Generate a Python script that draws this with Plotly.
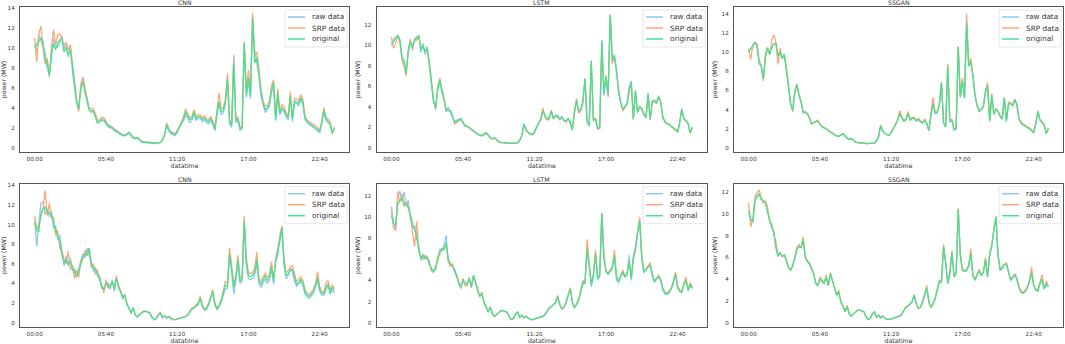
import pandas as pd
import plotly.graph_objects as go

# ---------------- data ----------------
times = pd.date_range("2020-01-01 00:00", periods=144, freq="10min")
tick_labels = ["00:00", "05:40", "11:20", "17:00", "22:40"]
models = ["CNN", "LSTM", "SSGAN"]
series_names = ["raw data", "SRP data", "original"]

top_original = [
    10.0, 10.3, 10.6, 11.0, 10.6, 8.8, 8.5, 7.2, 9.5, 10.4, 9.8, 10.5,
    10.8, 10.9, 9.6, 10.0, 9.3, 9.8, 8.2, 6.2, 4.6, 3.9, 5.8, 6.6,
    5.5, 4.8, 3.7, 3.7, 3.6, 3.1, 2.5, 2.6, 2.7, 2.8, 2.5, 2.2,
    2.1, 2.0, 1.8, 1.65, 1.5, 1.35, 1.25, 1.2, 1.35, 1.5, 1.25, 1.0,
    0.9, 1.0, 0.8, 0.6, 0.55, 0.55, 0.5, 0.5, 0.45, 0.45, 0.45, 0.48,
    0.5, 0.75, 1.2, 2.3, 1.8, 1.5, 1.4, 1.3, 1.6, 2.0, 2.4, 2.8,
    3.6, 3.2, 2.8, 2.9, 3.6, 2.9, 3.1, 3.1, 2.8, 3.0, 2.7, 2.6,
    2.9, 2.5, 1.8, 3.5, 4.6, 3.6, 3.7, 4.5, 6.8, 2.6, 2.2, 8.5,
    2.7, 2.9, 1.9, 2.0, 10.5, 5.3, 7.0, 5.2, 13.0, 8.5, 9.0, 7.5,
    5.5, 4.4, 3.8, 4.0, 4.3, 5.8, 6.5, 2.8, 5.5, 3.5, 4.0, 3.8,
    3.3, 3.0, 5.2, 2.8, 4.6, 4.6, 4.4, 5.0, 4.5, 3.0, 2.6, 2.4,
    2.3, 2.1, 2.0, 1.8, 1.6, 2.5, 3.8, 2.9, 2.7, 2.4, 1.5, 2.0,
]
top_cnn_raw = [
    10.4, 9.6, 11.3, 10.7, 9.9, 9.5, 7.9, 7.4, 9.0, 10.9, 10.2, 10.1,
    10.5, 11.2, 9.9, 10.3, 9.1, 10.2, 7.7, 5.9, 4.4, 3.8, 6.1, 7.1,
    5.8, 4.6, 3.9, 3.5, 3.8, 3.0, 2.4, 2.7, 2.9, 2.7, 2.4, 2.1,
    2.0, 1.9, 1.7, 1.6, 1.45, 1.3, 1.2, 1.15, 1.3, 1.45, 1.2, 0.95,
    0.85, 0.95, 0.75, 0.55, 0.5, 0.5, 0.45, 0.45, 0.4, 0.4, 0.42, 0.45,
    0.5, 0.8, 1.3, 2.2, 1.7, 1.4, 1.3, 1.2, 1.5, 2.1, 2.5, 2.6,
    3.3, 3.0, 2.5, 2.7, 3.4, 2.7, 3.0, 2.9, 2.6, 2.8, 2.5, 2.4,
    2.7, 2.3, 1.7, 3.3, 4.3, 3.3, 3.5, 4.3, 7.1, 2.4, 2.0, 9.3,
    2.5, 2.7, 1.7, 1.9, 10.3, 5.0, 6.6, 4.9, 13.2, 9.8, 8.6, 7.2,
    5.2, 4.2, 3.5, 3.8, 4.1, 5.5, 6.2, 2.7, 5.3, 3.3, 3.8, 3.6,
    3.1, 2.8, 5.0, 2.6, 4.4, 4.4, 4.2, 4.8, 4.3, 2.8, 2.5, 2.3,
    2.2, 2.0, 1.9, 1.7, 1.5, 2.4, 3.6, 2.7, 2.5, 2.3, 1.4, 1.9,
]
top_cnn_srp = [
    11.0, 8.6, 11.4, 12.2, 10.0, 8.4, 9.0, 7.1, 10.0, 11.8, 10.3, 11.3,
    11.4, 11.0, 10.2, 10.6, 9.8, 10.3, 8.6, 6.5, 4.9, 3.6, 6.4, 7.0,
    6.0, 5.2, 4.0, 3.9, 3.9, 3.4, 2.7, 2.8, 3.0, 3.0, 2.6, 2.3,
    2.2, 2.1, 1.9, 1.75, 1.55, 1.4, 1.3, 1.25, 1.4, 1.55, 1.3, 1.05,
    0.95, 1.05, 0.85, 0.65, 0.6, 0.58, 0.52, 0.52, 0.47, 0.47, 0.48, 0.5,
    0.55, 0.8, 1.3, 2.5, 1.9, 1.6, 1.5, 1.4, 1.7, 2.2, 2.6, 3.1,
    3.9, 3.4, 3.0, 3.1, 3.8, 3.1, 3.3, 3.3, 3.0, 3.2, 2.9, 2.8,
    3.1, 2.7, 1.9, 3.8, 5.5, 3.9, 4.0, 4.8, 7.4, 2.8, 2.3, 9.0,
    2.9, 3.1, 2.0, 2.1, 10.6, 5.8, 7.8, 5.6, 13.5, 9.2, 9.6, 8.0,
    5.9, 4.7, 4.1, 4.3, 4.6, 6.2, 6.8, 3.0, 5.9, 3.7, 4.3, 4.1,
    3.5, 3.2, 5.6, 3.0, 4.9, 4.9, 4.7, 5.3, 4.8, 3.2, 2.8, 2.6,
    2.5, 2.3, 2.2, 2.0, 1.7, 2.7, 4.0, 3.1, 2.9, 2.6, 1.4, 2.1,
]
top_lstm_raw = [
    10.2, 10.6, 10.8, 10.9, 10.5, 9.0, 8.3, 7.4, 9.3, 10.2, 10.0, 10.4,
    10.6, 11.0, 9.3, 10.2, 9.1, 9.9, 8.0, 6.0, 4.5, 3.9, 5.6, 6.4,
    5.4, 4.9, 3.5, 4.0, 3.4, 3.0, 2.6, 2.7, 2.8, 2.9, 2.4, 2.2,
    2.05, 2.0, 1.75, 1.6, 1.5, 1.3, 1.25, 1.15, 1.3, 1.45, 1.2, 0.95,
    0.9, 0.95, 0.8, 0.6, 0.55, 0.5, 0.5, 0.45, 0.45, 0.45, 0.45, 0.5,
    0.5, 0.8, 1.2, 2.4, 1.7, 1.5, 1.35, 1.3, 1.6, 2.1, 2.4, 2.9,
    3.7, 3.1, 2.9, 3.0, 3.5, 3.0, 3.0, 3.2, 2.7, 3.1, 2.6, 2.7,
    2.8, 2.6, 1.7, 3.6, 4.7, 3.5, 3.8, 4.4, 6.6, 2.7, 2.1, 8.4,
    2.8, 2.8, 2.0, 1.9, 10.4, 5.1, 6.9, 5.0, 12.9, 8.7, 8.8, 7.6,
    5.3, 4.5, 3.7, 4.1, 4.2, 5.9, 6.4, 2.9, 5.7, 3.4, 4.1, 3.7,
    3.4, 2.9, 5.4, 2.8, 4.5, 4.7, 4.3, 5.1, 4.4, 3.1, 2.5, 2.4,
    2.3, 2.1, 1.95, 1.8, 1.55, 2.4, 3.7, 2.9, 2.6, 2.4, 1.5, 2.0,
]
top_lstm_srp = [
    10.8, 9.7, 10.2, 10.9, 10.3, 8.5, 8.0, 7.0, 9.6, 10.6, 9.5, 10.7,
    10.5, 10.8, 9.8, 9.7, 9.6, 9.5, 8.5, 6.4, 4.8, 3.7, 6.0, 6.8,
    5.7, 4.6, 3.8, 3.6, 3.7, 3.2, 2.3, 2.5, 2.6, 2.8, 2.6, 2.1,
    2.1, 1.95, 1.85, 1.7, 1.45, 1.4, 1.2, 1.25, 1.4, 1.5, 1.3, 1.0,
    0.85, 1.0, 0.8, 0.6, 0.5, 0.55, 0.48, 0.5, 0.45, 0.45, 0.45, 0.5,
    0.5, 0.7, 1.2, 2.3, 1.8, 1.5, 1.4, 1.3, 1.5, 2.0, 2.5, 2.8,
    3.9, 3.0, 2.7, 2.8, 3.7, 2.8, 3.2, 3.0, 2.8, 3.0, 2.7, 2.5,
    2.9, 2.4, 1.8, 3.4, 4.8, 3.4, 3.6, 4.6, 6.7, 2.5, 2.2, 8.5,
    2.6, 2.9, 1.8, 2.0, 10.4, 5.4, 7.1, 5.0, 13.0, 8.2, 9.1, 7.3,
    5.6, 4.3, 3.6, 3.9, 4.4, 5.6, 6.4, 2.7, 5.4, 3.5, 3.9, 3.9,
    3.2, 3.0, 5.1, 2.7, 4.5, 4.5, 4.4, 4.9, 4.5, 2.9, 2.6, 2.3,
    2.3, 2.1, 2.0, 1.7, 1.5, 2.5, 3.8, 2.8, 2.7, 2.3, 1.4, 2.0,
]
top_ssgan_raw = [
    10.0, 10.3, 10.6, 11.0, 10.6, 8.9, 8.5, 7.2, 9.5, 10.4, 9.8, 10.5,
    10.9, 10.9, 9.7, 10.0, 9.3, 9.8, 8.2, 6.2, 4.6, 3.9, 5.8, 6.6,
    5.5, 4.8, 3.7, 3.7, 3.6, 3.1, 2.5, 2.6, 2.7, 2.8, 2.5, 2.2,
    2.1, 2.0, 1.8, 1.65, 1.5, 1.35, 1.25, 1.2, 1.35, 1.5, 1.25, 1.0,
    0.9, 1.0, 0.8, 0.6, 0.55, 0.55, 0.5, 0.5, 0.45, 0.45, 0.45, 0.48,
    0.5, 0.75, 1.2, 2.3, 1.8, 1.5, 1.4, 1.3, 1.6, 2.0, 2.4, 2.8,
    3.6, 3.2, 2.8, 2.9, 3.6, 2.9, 3.1, 3.1, 2.8, 3.0, 2.7, 2.6,
    2.9, 2.5, 1.8, 3.5, 4.7, 3.6, 3.7, 4.5, 6.8, 2.6, 2.2, 8.6,
    2.7, 2.9, 1.9, 2.0, 10.5, 5.3, 7.1, 5.2, 13.2, 8.6, 9.1, 7.5,
    5.5, 4.4, 3.8, 4.0, 4.3, 5.8, 6.5, 2.8, 5.5, 3.5, 4.0, 3.8,
    3.3, 3.0, 5.2, 2.8, 4.6, 4.6, 4.4, 5.0, 4.5, 3.0, 2.6, 2.4,
    2.3, 2.1, 2.0, 1.8, 1.6, 2.5, 3.8, 2.9, 2.7, 2.4, 1.5, 2.0,
]
top_ssgan_srp = [
    10.4, 9.2, 10.8, 11.0, 10.9, 9.2, 8.6, 7.0, 9.8, 10.5, 9.7, 11.2,
    11.8, 11.0, 8.7, 10.4, 9.4, 9.6, 8.3, 6.3, 4.7, 3.8, 6.0, 6.7,
    5.6, 4.9, 3.6, 3.8, 3.5, 3.2, 2.5, 2.7, 2.8, 2.9, 2.5, 2.3,
    2.1, 2.0, 1.85, 1.7, 1.5, 1.4, 1.25, 1.25, 1.4, 1.5, 1.25, 1.0,
    0.9, 1.0, 0.8, 0.6, 0.55, 0.55, 0.5, 0.5, 0.45, 0.45, 0.45, 0.5,
    0.5, 0.75, 1.25, 2.4, 1.8, 1.5, 1.4, 1.3, 1.6, 2.1, 2.5, 2.9,
    3.9, 3.3, 2.9, 3.0, 3.8, 3.0, 3.2, 3.2, 2.9, 3.1, 2.8, 2.7,
    3.0, 2.6, 1.8, 3.6, 5.3, 3.7, 3.8, 4.6, 6.9, 2.6, 2.2, 8.8,
    2.8, 3.0, 1.9, 2.0, 10.6, 5.4, 7.3, 5.3, 14.0, 8.7, 9.4, 7.7,
    5.6, 4.5, 3.9, 4.1, 4.4, 6.0, 6.8, 2.9, 5.7, 3.6, 4.1, 3.9,
    3.4, 3.1, 5.3, 2.9, 4.8, 4.7, 4.5, 5.1, 4.6, 3.1, 2.7, 2.5,
    2.4, 2.2, 2.1, 1.9, 1.6, 2.6, 3.9, 3.0, 2.8, 2.5, 1.5, 2.1,
]

bottom_original = [
    10.2, 9.4, 9.3, 11.2, 11.6, 11.8, 11.3, 11.2, 11.0, 10.1, 9.4, 8.8,
    8.3, 6.9, 6.1, 6.4, 6.1, 6.2, 5.7, 5.1, 4.8, 5.2, 5.9, 6.7,
    7.0, 6.9, 7.6, 6.0, 5.6, 5.4, 4.9, 4.5, 3.6, 3.4, 4.0, 3.8,
    3.6, 4.2, 3.4, 4.5, 3.8, 3.0, 2.5, 2.8, 1.9, 1.5, 1.0, 1.5,
    0.8, 0.6, 0.8, 1.0, 1.15, 1.15, 1.1, 1.0, 0.55, 0.3, 0.4, 0.8,
    1.0, 0.5, 0.7, 0.45, 0.6, 0.4, 0.3, 0.3, 0.35, 0.4, 0.5, 0.55,
    0.6, 0.75, 1.1, 1.4, 1.5, 1.7, 1.9, 2.5, 1.7, 1.3, 1.4, 1.9,
    2.6, 3.2, 1.9, 1.4, 1.7, 2.2, 3.0, 3.8, 3.7, 7.0, 5.5, 3.6,
    4.5, 6.5, 4.2, 4.5, 10.4, 6.2, 4.8, 4.7, 4.8, 5.2, 6.4, 4.3,
    3.9, 4.3, 4.8, 4.3, 4.6, 5.8, 4.2, 6.2, 7.0, 8.5, 9.7, 6.2,
    4.8, 5.0, 5.3, 5.4, 4.5, 3.9, 4.1, 4.4, 4.0, 3.2, 2.8, 2.7,
    2.9, 3.2, 3.8, 4.6, 3.4, 3.0, 2.9, 3.6, 4.0, 3.1, 3.6, 3.3,
]
bottom_cnn_raw = [
    10.6, 7.8, 10.2, 12.2, 12.3, 11.0, 11.6, 10.8, 11.4, 9.6, 9.9, 8.4,
    8.9, 7.2, 5.8, 6.8, 5.8, 6.6, 5.3, 5.5, 4.6, 5.5, 6.3, 7.0,
    6.6, 7.6, 6.8, 6.3, 5.2, 5.7, 4.7, 4.8, 3.5, 3.6, 3.8, 4.1,
    3.4, 4.4, 3.2, 4.6, 3.6, 3.1, 2.4, 2.9, 1.8, 1.6, 0.9, 1.6,
    0.75, 0.65, 0.8, 1.0, 1.1, 1.15, 1.1, 0.95, 0.5, 0.3, 0.45, 0.8,
    0.95, 0.5, 0.7, 0.45, 0.6, 0.4, 0.3, 0.3, 0.35, 0.4, 0.5, 0.55,
    0.6, 0.8, 1.1, 1.35, 1.5, 1.65, 1.85, 2.4, 1.65, 1.3, 1.35, 1.8,
    2.5, 3.1, 1.8, 1.3, 1.6, 2.1, 2.8, 3.4, 3.5, 6.7, 5.2, 2.9,
    4.2, 6.2, 4.0, 4.2, 10.2, 5.9, 4.5, 4.4, 4.5, 4.9, 6.0, 4.0,
    3.6, 4.1, 4.5, 4.0, 4.3, 5.5, 3.9, 6.6, 7.6, 8.2, 9.4, 5.8,
    4.5, 4.8, 5.6, 5.2, 4.2, 3.7, 3.9, 4.2, 3.8, 2.9, 2.6, 2.5,
    2.7, 3.0, 3.6, 4.4, 3.2, 2.8, 2.8, 3.4, 3.8, 2.9, 3.3, 3.0,
]
bottom_cnn_srp = [
    10.9, 9.6, 10.0, 10.8, 11.6, 13.5, 10.9, 12.2, 10.6, 10.8, 8.9, 9.4,
    7.6, 7.3, 6.5, 6.0, 7.3, 5.4, 5.9, 4.5, 5.4, 4.6, 6.4, 6.5,
    7.4, 6.8, 7.6, 5.6, 6.0, 4.9, 5.4, 4.3, 4.0, 3.0, 4.4, 3.5,
    3.9, 4.0, 3.7, 4.8, 3.5, 3.3, 2.7, 2.7, 2.1, 1.4, 1.1, 1.5,
    0.85, 0.6, 0.85, 1.05, 1.2, 1.2, 1.15, 1.05, 0.6, 0.3, 0.45, 0.85,
    1.05, 0.55, 0.75, 0.5, 0.65, 0.45, 0.35, 0.35, 0.4, 0.45, 0.55, 0.6,
    0.65, 0.8, 1.2, 1.5, 1.6, 1.8, 2.0, 2.7, 1.8, 1.4, 1.5, 2.0,
    2.8, 3.4, 2.0, 1.5, 1.8, 2.4, 3.3, 4.2, 4.0, 7.6, 5.9, 3.9,
    4.8, 6.9, 4.5, 4.8, 10.9, 6.6, 5.1, 5.0, 5.1, 5.6, 7.2, 4.6,
    4.2, 4.6, 5.1, 4.6, 4.9, 6.2, 4.5, 6.5, 7.3, 8.9, 9.9, 6.6,
    5.1, 5.3, 5.7, 5.8, 4.9, 4.2, 4.4, 4.7, 4.3, 3.4, 3.0, 2.9,
    3.1, 3.4, 4.0, 5.2, 3.7, 3.2, 3.1, 4.1, 4.3, 3.3, 3.9, 3.5,
]
bottom_lstm_raw = [
    11.0, 9.5, 8.9, 11.8, 12.5, 11.5, 12.4, 11.0, 11.6, 9.8, 9.0, 9.2,
    7.9, 7.3, 5.9, 6.5, 6.0, 6.3, 5.5, 5.2, 4.7, 5.4, 6.0, 7.0,
    6.8, 7.4, 8.3, 5.8, 5.6, 5.3, 5.1, 4.5, 3.8, 3.3, 4.1, 3.7,
    3.7, 4.1, 3.5, 4.4, 3.9, 2.9, 2.6, 2.7, 2.0, 1.4, 1.0, 1.5,
    0.8, 0.6, 0.8, 1.0, 1.1, 1.15, 1.1, 1.0, 0.55, 0.3, 0.4, 0.8,
    1.0, 0.5, 0.7, 0.45, 0.6, 0.4, 0.3, 0.3, 0.35, 0.4, 0.5, 0.55,
    0.6, 0.75, 1.1, 1.35, 1.5, 1.7, 1.9, 2.4, 1.7, 1.3, 1.4, 1.9,
    2.5, 3.3, 1.8, 1.4, 1.7, 2.1, 2.9, 3.6, 3.8, 6.8, 5.4, 3.4,
    4.3, 6.6, 4.1, 4.3, 10.3, 6.0, 4.9, 4.5, 5.0, 5.3, 6.2, 4.0,
    3.8, 4.5, 4.6, 4.4, 4.5, 6.4, 4.0, 6.0, 6.8, 8.6, 9.5, 6.0,
    4.7, 5.1, 5.2, 5.5, 4.4, 3.8, 4.2, 4.3, 4.1, 3.1, 2.7, 2.7,
    2.8, 3.3, 3.7, 4.7, 3.3, 3.0, 2.8, 3.7, 4.2, 3.0, 3.5, 3.2,
]
bottom_lstm_srp = [
    10.6, 9.0, 8.7, 12.4, 11.4, 12.2, 11.0, 11.5, 10.8, 10.3, 8.6, 7.2,
    9.6, 6.7, 6.3, 6.0, 6.4, 6.0, 5.9, 4.9, 5.0, 5.0, 6.3, 6.5,
    7.0, 7.0, 7.5, 5.8, 5.3, 5.6, 4.8, 4.3, 3.9, 3.2, 4.2, 3.5,
    3.5, 4.3, 3.3, 4.4, 3.7, 3.1, 2.4, 2.9, 1.8, 1.5, 1.0, 1.5,
    0.85, 0.6, 0.8, 1.05, 1.15, 1.15, 1.1, 1.0, 0.55, 0.3, 0.4, 0.8,
    1.0, 0.5, 0.7, 0.45, 0.6, 0.4, 0.3, 0.3, 0.35, 0.4, 0.5, 0.55,
    0.6, 0.8, 1.15, 1.45, 1.55, 1.75, 1.95, 2.6, 1.75, 1.35, 1.45, 2.0,
    2.7, 3.3, 2.0, 1.5, 1.8, 2.3, 3.1, 4.0, 3.8, 7.9, 5.7, 3.7,
    4.6, 6.9, 4.3, 4.6, 10.4, 6.4, 4.9, 4.8, 4.9, 5.4, 6.9, 4.4,
    4.0, 4.4, 5.0, 4.4, 4.7, 5.9, 4.3, 6.3, 7.2, 8.7, 10.0, 6.4,
    4.9, 5.1, 5.4, 5.7, 4.6, 4.0, 4.2, 4.5, 4.1, 3.3, 2.9, 2.8,
    3.0, 3.3, 3.9, 4.8, 3.5, 3.1, 3.0, 3.7, 4.3, 3.2, 3.8, 3.4,
]
bottom_ssgan_raw = [
    10.3, 9.5, 9.2, 11.2, 11.7, 11.8, 11.4, 11.2, 11.0, 10.2, 9.4, 8.8,
    8.4, 6.9, 6.1, 6.4, 6.1, 6.2, 5.7, 5.1, 4.8, 5.2, 5.9, 6.7,
    7.0, 6.9, 7.6, 6.0, 5.6, 5.4, 4.9, 4.5, 3.6, 3.4, 4.0, 3.8,
    3.6, 4.2, 3.4, 4.5, 3.8, 3.0, 2.5, 2.8, 1.9, 1.5, 1.0, 1.5,
    0.8, 0.6, 0.8, 1.0, 1.15, 1.15, 1.1, 1.0, 0.55, 0.3, 0.4, 0.8,
    1.0, 0.5, 0.7, 0.45, 0.6, 0.4, 0.3, 0.3, 0.35, 0.4, 0.5, 0.55,
    0.6, 0.75, 1.1, 1.4, 1.5, 1.7, 1.9, 2.5, 1.7, 1.3, 1.4, 1.9,
    2.6, 3.2, 1.9, 1.4, 1.7, 2.2, 3.0, 3.8, 3.7, 7.0, 5.5, 3.6,
    4.5, 6.5, 4.2, 4.5, 10.4, 6.2, 4.8, 4.7, 4.8, 5.2, 6.4, 4.3,
    3.9, 4.3, 4.8, 4.3, 4.6, 5.8, 4.2, 6.2, 7.0, 8.5, 9.7, 6.2,
    4.8, 5.0, 5.3, 5.4, 4.5, 3.9, 4.1, 4.4, 4.0, 3.2, 2.8, 2.7,
    2.9, 3.2, 3.8, 4.6, 3.4, 3.0, 2.9, 3.6, 4.0, 3.1, 3.6, 3.3,
]
bottom_ssgan_srp = [
    11.0, 8.8, 9.5, 11.6, 11.9, 12.2, 11.5, 11.0, 11.2, 10.7, 9.2, 9.1,
    8.0, 7.5, 6.2, 6.5, 6.0, 6.3, 5.8, 5.0, 4.9, 5.3, 6.0, 6.9,
    7.2, 6.9, 7.9, 6.2, 5.7, 5.5, 5.0, 4.6, 3.7, 3.4, 4.2, 3.9,
    3.7, 4.4, 3.4, 4.6, 3.8, 3.1, 2.6, 3.0, 1.9, 1.6, 1.0, 1.6,
    0.8, 0.6, 0.8, 1.0, 1.15, 1.15, 1.1, 1.0, 0.55, 0.3, 0.4, 0.8,
    1.0, 0.5, 0.7, 0.45, 0.6, 0.4, 0.3, 0.3, 0.35, 0.4, 0.5, 0.55,
    0.6, 0.75, 1.1, 1.45, 1.55, 1.75, 1.95, 2.6, 1.75, 1.3, 1.45, 2.0,
    2.7, 3.4, 1.9, 1.4, 1.75, 2.3, 3.1, 3.9, 3.8, 7.2, 5.6, 3.7,
    4.6, 6.6, 4.3, 4.6, 10.5, 6.3, 4.9, 4.8, 4.9, 5.3, 6.8, 4.4,
    4.0, 4.4, 4.9, 4.4, 4.7, 6.0, 4.3, 6.3, 7.2, 8.7, 9.8, 6.3,
    4.9, 5.1, 5.4, 5.5, 4.6, 4.0, 4.2, 4.5, 4.1, 3.3, 2.9, 2.8,
    3.0, 3.3, 3.9, 5.1, 3.5, 3.1, 3.0, 3.8, 4.4, 3.2, 3.8, 3.4,
]

panels = [
    ("CNN", top_cnn_raw, top_cnn_srp, top_original),
    ("LSTM", top_lstm_raw, top_lstm_srp, top_original),
    ("SSGAN", top_ssgan_raw, top_ssgan_srp, top_original),
    ("CNN", bottom_cnn_raw, bottom_cnn_srp, bottom_original),
    ("LSTM", bottom_lstm_raw, bottom_lstm_srp, bottom_original),
    ("SSGAN", bottom_ssgan_raw, bottom_ssgan_srp, bottom_original),
]
for p in panels:
    for s in p[1:]:
        assert len(s) == len(times), (p[0], len(s))

# ---------------- styling / layout ----------------
W, H = 1065, 344
colors = ["#8cc8f2", "#ffa578", "#46e28c"]
font_family = "DejaVu Sans"
text_color = "#333333"
x_px = [(20, 349), (376.7, 707), (734, 1063)]
y_px = [(7, 152), (183.7, 327)]
y_ranges = [[-0.44, 14.1], [-0.39, 13.73], [-0.42, 14.7],
            [-0.44, 14.17], [-0.41, 13.17], [-0.4, 12.77]]

t0 = times[0]
x_range = [t0 - pd.Timedelta(minutes=70), t0 + pd.Timedelta(minutes=1500)]
tick_vals = [pd.Timestamp("2020-01-01 " + lbl) for lbl in tick_labels]


def px_x(v):
    return v / W


def px_y(v):
    return 1 - v / H


fig = go.Figure()
annotations, shapes = [], []
layout = dict(
    width=W, height=H, autosize=False,
    margin=dict(l=0, r=0, t=0, b=0),
    paper_bgcolor="white", plot_bgcolor="white",
    font=dict(family=font_family, color=text_color),
    showlegend=False,
)

for k, (title, raw, srp, orig) in enumerate(panels):
    idx = k + 1
    r, c = divmod(k, 3)
    L, R = x_px[c]
    T, B = y_px[r]
    xd = [px_x(L), px_x(R)]
    yd = [px_y(B), px_y(T)]
    xa = "x" if idx == 1 else f"x{idx}"
    ya = "y" if idx == 1 else f"y{idx}"
    for name, vals, col in zip(series_names, [raw, srp, orig], colors):
        fig.add_trace(go.Scatter(
            x=times, y=vals, mode="lines", name=name,
            line=dict(color=col, width=1.25),
            xaxis=xa, yaxis=ya,
        ))
    axis_common = dict(
        showline=True, mirror=True, linecolor="#555555", linewidth=1.3,
        showgrid=False, zeroline=False, automargin=False,
        ticks="outside", tickcolor="rgba(0,0,0,0)",
        tickfont=dict(size=5.6, color=text_color, family=font_family),
    )
    layout[f"xaxis{'' if idx == 1 else idx}"] = dict(
        axis_common, domain=xd, anchor=ya, type="date", range=x_range,
        tickvals=tick_vals, ticktext=tick_labels, ticklen=1,
        title=dict(text="datatime", font=dict(size=6.2), standoff=0),
    )
    layout[f"yaxis{'' if idx == 1 else idx}"] = dict(
        axis_common, domain=yd, anchor=xa, range=y_ranges[k], dtick=2,
        ticklen=3,
        title=dict(text="power (MW)", font=dict(size=6.2), standoff=3),
    )
    # panel title
    annotations.append(dict(
        text=title, xref="paper", yref="paper",
        x=(xd[0] + xd[1]) / 2, y=yd[1], xanchor="center", yanchor="bottom",
        yshift=-1, showarrow=False, font=dict(size=6.2, color=text_color),
    ))
    # legend (upper right, matplotlib-like compact frame)
    shapes.append(dict(
        type="rect", xref="paper", yref="paper", layer="above",
        x0=px_x(R - 64), x1=px_x(R - 2), y0=px_y(T + 40), y1=px_y(T + 3),
        fillcolor="rgba(255,255,255,0.85)", line=dict(color="#e0e0e0", width=0.8),
    ))
    for j, (name, col) in enumerate(zip(series_names, colors)):
        ry = T + 10 + j * 11
        shapes.append(dict(
            type="line", xref="paper", yref="paper", layer="above",
            x0=px_x(R - 61), x1=px_x(R - 44), y0=px_y(ry), y1=px_y(ry),
            line=dict(color=col, width=1.5),
        ))
        annotations.append(dict(
            text=name, xref="paper", yref="paper",
            x=px_x(R - 39), y=px_y(ry), xanchor="left", yanchor="middle",
            showarrow=False, font=dict(size=7.3, color=text_color),
        ))

layout["annotations"] = annotations
layout["shapes"] = shapes
fig.update_layout(**layout)
fig.write_html(
    "out.html",
    config={"displayModeBar": False},
    post_script="document.body.style.margin='0';",
)
